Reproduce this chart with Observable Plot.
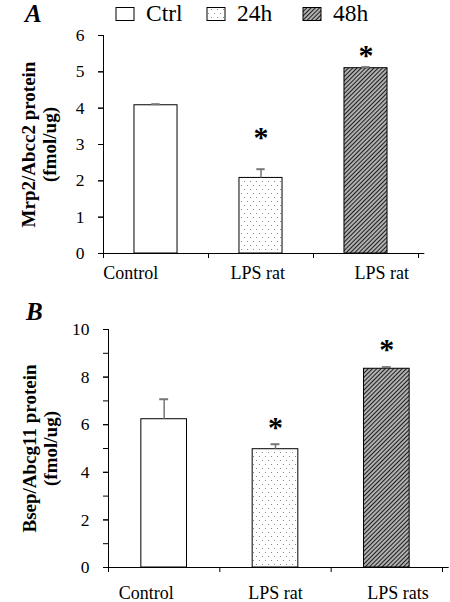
<!DOCTYPE html>
<html>
<head>
<meta charset="utf-8">
<script src="https://cdn.jsdelivr.net/npm/d3@7"></script>
<script src="https://cdn.jsdelivr.net/npm/@observablehq/plot@0.6"></script>
<style>
  body { margin: 0; background: #fff; }
  #wrap { position: relative; width: 450px; height: 602px; overflow: hidden; font-family: "Liberation Serif", "Times New Roman", serif; }
  .abs { position: absolute; left: 0; }
  .panel-letter { position: absolute; font-weight: bold; font-style: italic; font-size: 25px; line-height: 1; font-family: "Liberation Serif", "Times New Roman", serif; }
  svg text { font-family: "Liberation Serif", "Times New Roman", serif; }
</style>
</head>
<body>
<svg width="0" height="0" style="position:absolute">
  <defs>
    <pattern id="dots" width="6" height="8" patternUnits="userSpaceOnUse">
      <rect width="6" height="8" fill="#fff"/>
      <rect x="1" y="1" width="1" height="1" fill="#8a8a8a"/>
      <rect x="4" y="5" width="1" height="1" fill="#8a8a8a"/>
    </pattern>
    <pattern id="hatch" width="3" height="3" patternUnits="userSpaceOnUse" patternTransform="rotate(45)">
      <rect width="3" height="3" fill="#b0b0b0"/>
      <line x1="0" y1="0" x2="0" y2="3" stroke="#1e1e1e" stroke-width="2"/>
    </pattern>
  </defs>
</svg>
<div id="wrap">
  <div id="legend" class="abs" style="top:0"></div>
  <div class="panel-letter" style="left:25px; top:1px">A</div>
  <div class="panel-letter" style="left:26px; top:299px">B</div>
  <div id="panelA" class="abs" style="top:0"></div>
  <div id="panelB" class="abs" style="top:295px"></div>
</div>
<script>
// ---- data ----
const groups = ["Ctrl", "24h", "48h"];
const labelsA = ["Control", "LPS rat", "LPS rat"];
const labelsB = ["Control", "LPS rat", "LPS rats"];
const mrp2 = [4.08, 2.08, 5.10];
const mrp2Err = [0.03, 0.24, 0.03];
const bsep = [6.23, 4.97, 8.35];
const bsepErr = [0.84, 0.21, 0.07];
const significant = [false, true, true];
const starA = [null, 3.28, 5.54];
const starB = [null, 6.0, 9.31];
const yTicksA = [0, 1, 2, 3, 4, 5, 6];
const yTicksB = [0, 2, 4, 6, 8, 10];
const yMinorB = [0, 1, 2, 3, 4, 5, 6, 7, 8, 9, 10];
const titleA = "Mrp2/Abcc2 protein\n(fmol/ug)";
const titleB = "Bsep/Abcg11 protein\n(fmol/ug)";

// ---- styles / layout ----
const fills = ["#fff", "url(#dots)", "url(#hatch)"];
const font = "Liberation Serif, Times New Roman, serif";
const halfBar = 0.205;
const capHalf = 0.04;
const labelPosA = [0.26, 1.47, 2.65];
const labelPosB = [0.34, 1.50, 2.60];

// legend
const legendSvg = d3.create("svg").attr("width", 450).attr("height", 30)
  .style("font-family", font).style("font-size", "23.5px");
const legendX = [116, 207, 303];
groups.forEach((g, i) => {
  legendSvg.append("rect").attr("x", legendX[i]).attr("y", 7.5).attr("width", 18).attr("height", 13)
    .attr("fill", fills[i]).attr("stroke", "#000").attr("stroke-width", 1);
  legendSvg.append("text").attr("x", legendX[i] + 30).attr("y", 21).text(g);
});
document.getElementById("legend").append(legendSvg.node());

function panel({values, errs, stars, labels, labelPos, ymax, ticks, minor, title, height, marginTop, marginBottom, marginLeft, marginRight, labelDy, titleDx}) {
  const rows = groups.map((g, i) => ({g, i, v: values[i], e: errs[i], s: stars[i], sig: significant[i], label: labels[i], lx: labelPos[i]}));
  return Plot.plot({
    width: 450, height, marginTop, marginBottom, marginLeft, marginRight,
    x: {domain: [0, 3], axis: null},
    y: {domain: [0, ymax], axis: null},
    style: {fontFamily: font, fontSize: "17px", color: "#000", background: "transparent", overflow: "visible"},
    marks: [
      Plot.axisY(minor, {tickSize: 5, tickFormat: () => "", label: null, stroke: "#000"}),
      Plot.axisY(ticks, {tickSize: 5, tickPadding: 14, label: null, fontSize: 17.5, stroke: "#000"}),
      Plot.axisX([0, 1, 2, 3], {tickSize: 5, tickFormat: () => "", label: null, stroke: "#000"}),
      Plot.ruleX([0], {y1: 0, y2: ymax, stroke: "#000"}),
      Plot.ruleY([0], {x1: -0.02, x2: 3.06, stroke: "#000"}),
      ...rows.map(r => Plot.rectY([r], {x1: d => d.i + 0.5 - halfBar, x2: d => d.i + 0.5 + halfBar, y1: 0, y2: "v", fill: fills[r.i], stroke: "#000", strokeWidth: 1})),
      Plot.ruleX(rows, {x: d => d.i + 0.5, y1: "v", y2: d => d.v + d.e, stroke: "#777", strokeWidth: 1.5}),
      Plot.ruleY(rows, {y: d => d.v + d.e, x1: d => d.i + 0.5 - capHalf, x2: d => d.i + 0.5 + capHalf, stroke: "#777", strokeWidth: 2}),
      Plot.text(rows.filter(d => d.sig), {x: d => d.i + 0.5, y: "s", text: () => "*", fontSize: 30, fontWeight: "bold", dy: 3}),
      Plot.text(rows, {x: "lx", y: 0, text: "label", fontSize: 18, dy: labelDy}),
      Plot.text([title], {frameAnchor: "left", rotate: -90, dx: titleDx, fontWeight: "bold", fontSize: 19, lineHeight: 1.1, textAnchor: "middle", lineAnchor: "middle"})
    ]
  });
}

document.getElementById("panelA").append(panel({
  values: mrp2, errs: mrp2Err, stars: starA, labels: labelsA, labelPos: labelPosA,
  ymax: 6, ticks: yTicksA, minor: yTicksA, title: titleA,
  height: 290, marginTop: 35, marginBottom: 37, marginLeft: 103, marginRight: 32, labelDy: 20, titleDx: -65
}));
document.getElementById("panelB").append(panel({
  values: bsep, errs: bsepErr, stars: starB, labels: labelsB, labelPos: labelPosB,
  ymax: 10, ticks: yTicksB, minor: yMinorB, title: titleB,
  height: 307, marginTop: 34, marginBottom: 35, marginLeft: 108, marginRight: 8, labelDy: 26, titleDx: -69
}));
</script>
</body>
</html>
